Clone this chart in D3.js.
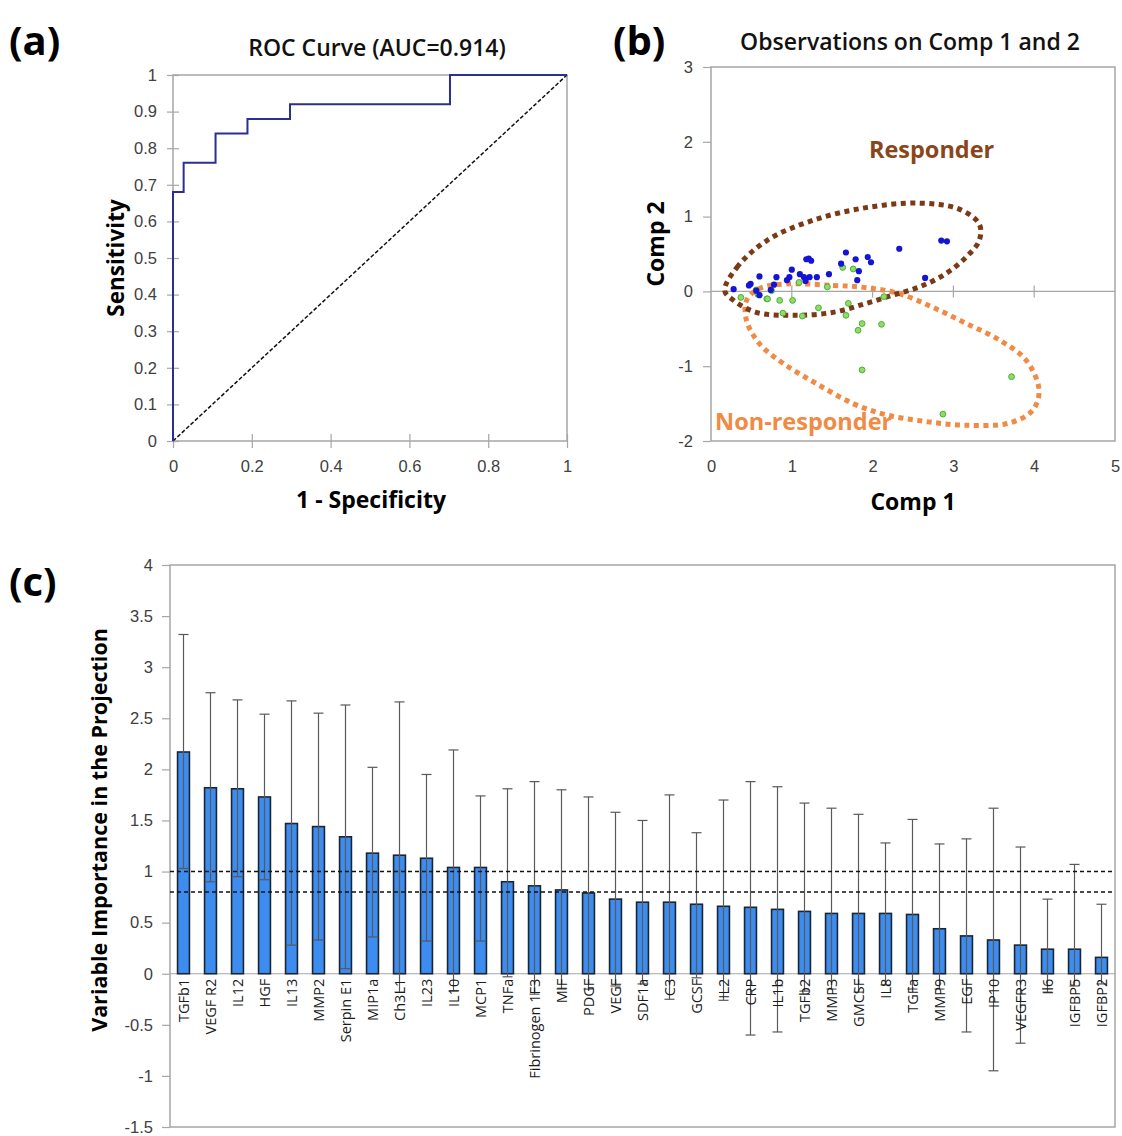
<!DOCTYPE html>
<html>
<head>
<meta charset="utf-8">
<script src="https://cdn.jsdelivr.net/npm/d3@7"></script>
<style>
  body { margin: 0; background: #fff; }
  svg { display: block; font-family: "Open Sans", sans-serif; }
  .tick text { fill: #404040; font-size: 16.5px; }
</style>
</head>
<body>
<svg id="chart" width="1122" height="1136"></svg>
<script>
// ROC curve (panel a) - step corners
const rocFpr = [0, 0, 0.027, 0.108, 0.189, 0.297, 0.703, 1];
const rocTpr = [0, 0.68, 0.76, 0.84, 0.88, 0.92, 1.0, 1.0];

// Scores plot (panel b)
const respComp1 = [0.28,0.47,0.49,0.60,0.56,0.60,0.74,0.78,0.81,0.94,0.97,1.00,1.10,1.15,1.17,1.18,1.21,1.24,1.22,1.31,1.46,1.67,1.61,1.79,1.83,1.81,1.94,1.98,2.33,2.65,2.85,2.92];
const respComp2 = [0.03,0.08,0.10,0.20,0.01,-0.05,0.02,0.09,0.19,0.15,0.19,0.29,0.23,0.19,0.14,0.43,0.44,0.41,0.19,0.19,0.23,0.52,0.37,0.43,0.27,0.15,0.46,0.39,0.57,0.18,0.68,0.67];
const nonComp1 = [0.37,0.56,0.58,0.69,0.70,0.75,0.85,1.01,0.89,1.09,1.13,1.33,1.44,1.63,1.76,1.70,1.67,1.82,1.87,2.11,2.14,1.87,2.87,3.72];
const nonComp2 = [-0.08,0.02,-0.04,-0.10,-0.10,0.01,-0.12,-0.12,-0.29,0.12,-0.33,-0.22,0.06,0.32,0.30,-0.16,-0.32,-0.52,-0.43,-0.44,-0.07,-1.05,-1.64,-1.14];

// hand drawn group outlines (data units)
const respLoopX = [0.17,0.32,0.69,1.26,1.92,2.58,3.07,3.32,3.32,3.16,2.91,2.58,2.25,1.92,1.51,1.02,0.56,0.28];
const respLoopY = [0.01,0.32,0.68,0.95,1.12,1.18,1.10,0.90,0.68,0.46,0.24,0.06,-0.05,-0.16,-0.28,-0.32,-0.28,-0.12];
const nonLoopX = [0.93,1.51,1.92,2.33,2.74,3.16,3.57,3.90,4.06,3.98,3.69,3.16,2.66,2.17,1.76,1.30,0.89,0.60,0.44,0.44,0.60];
const nonLoopY = [0.10,0.08,0.05,-0.03,-0.21,-0.43,-0.65,-0.92,-1.32,-1.59,-1.76,-1.79,-1.74,-1.65,-1.50,-1.23,-0.96,-0.70,-0.39,-0.12,0.04];

// VIP scores (panel c)
const vipNames = ["TGFb1","VEGF R2","IL12","HGF","IL13","MMP2","Serpin E1","MIP1a","Ch3L1","IL23","IL10","MCP1","TNFa","Fibrinogen 1F3","MIF","PDGF","VEGF","SDF1a","C3","GCSF","IL2","CRP","IL1b","TGFb2","MMP3","GMCSF","IL8","TGFa","MMP9","EGF","IP10","VEGFR3","Il6","IGFBP5","IGFBP2"];
const vipValues = [2.17,1.82,1.81,1.73,1.47,1.44,1.34,1.18,1.16,1.13,1.04,1.04,0.90,0.86,0.82,0.79,0.73,0.70,0.70,0.68,0.66,0.65,0.63,0.61,0.59,0.59,0.59,0.58,0.44,0.37,0.33,0.28,0.24,0.24,0.16];
const vipUpper = [3.32,2.75,2.68,2.54,2.67,2.55,2.63,2.02,2.66,1.95,2.19,1.74,1.81,1.88,1.80,1.73,1.58,1.50,1.75,1.38,1.70,1.88,1.83,1.67,1.62,1.56,1.28,1.51,1.27,1.32,1.62,1.24,0.73,1.07,0.68];
const vipLower = [1.03,0.90,0.95,0.92,0.28,0.33,0.05,0.36,-0.18,0.32,-0.17,0.32,-0.03,-0.20,-0.15,-0.15,-0.12,-0.10,-0.25,-0.04,-0.26,-0.60,-0.57,-0.17,-0.15,-0.18,-0.11,-0.15,-0.15,-0.57,-0.95,-0.68,-0.18,-0.12,-0.10];
const vipCutoffs = [1, 0.8];

const svg = d3.select("#chart");
svg.append("rect").attr("width", 1122).attr("height", 1136).attr("fill", "#fff");

const gridGray = "#a6a6a6";

function crossTicks(g, horizontal, len) {
  g.select(".domain").remove();
  g.selectAll(".tick line").attr("stroke", gridGray).attr("stroke-width", 1.2);
  if (horizontal) g.selectAll(".tick line").attr("y1", -len).attr("y2", len);
  else g.selectAll(".tick line").attr("x1", -len).attr("x2", len);
}

// ---------- panel (a) ----------
const xA = d3.scaleLinear().domain([0, 1]).range([173, 567]);
const yA = d3.scaleLinear().domain([0, 1]).range([441, 75]);

svg.append("text").attr("x", 9).attr("y", 55).attr("font-size", 40).attr("font-weight", 700).text("(a)");
svg.append("text").attr("x", 377).attr("y", 56).attr("text-anchor", "middle")
  .attr("font-size", 23).attr("font-weight", 600).attr("fill", "#111").text("ROC Curve (AUC=0.914)");

svg.append("rect").attr("x", xA(0)).attr("y", yA(1)).attr("width", xA(1) - xA(0)).attr("height", yA(0) - yA(1))
  .attr("fill", "none").attr("stroke", gridGray).attr("stroke-width", 1.5);

svg.append("g").attr("transform", `translate(${xA(0)},0)`)
  .call(d3.axisLeft(yA).tickValues(d3.ticks(0, 1, 10)).tickFormat(d => String(d)).tickSize(6).tickPadding(10))
  .call(g => crossTicks(g, false, 6));

svg.append("g").attr("transform", `translate(0,${yA(0)})`)
  .call(d3.axisBottom(xA).tickValues(d3.ticks(0, 1, 5)).tickFormat(d => String(d)).tickSize(6).tickPadding(13))
  .call(g => crossTicks(g, true, 7));

svg.append("line").attr("x1", xA(0)).attr("y1", yA(0)).attr("x2", xA(1)).attr("y2", yA(1))
  .attr("stroke", "#111").attr("stroke-width", 1.5).attr("stroke-dasharray", "4 2");

const rocPts = rocFpr.map((f, i) => [f, rocTpr[i]]);
svg.append("path").datum(rocPts)
  .attr("d", d3.line().x(d => xA(d[0])).y(d => yA(d[1])).curve(d3.curveStepAfter))
  .attr("fill", "none").attr("stroke", "#2b2f8f").attr("stroke-width", 2);

svg.append("text").attr("transform", `translate(124,${(yA(0) + yA(1)) / 2}) rotate(-90)`)
  .attr("text-anchor", "middle").attr("font-size", 22.5).attr("font-weight", 700).text("Sensitivity");
svg.append("text").attr("x", 371).attr("y", 508).attr("text-anchor", "middle")
  .attr("font-size", 23).attr("font-weight", 700).text("1 - Specificity");

// ---------- panel (b) ----------
const xB = d3.scaleLinear().domain([0, 5]).range([711, 1115]);
const yB = d3.scaleLinear().domain([-2, 3]).range([441, 67]);

svg.append("text").attr("x", 613).attr("y", 55).attr("font-size", 40).attr("font-weight", 700).text("(b)");
svg.append("text").attr("x", 910).attr("y", 50).attr("text-anchor", "middle")
  .attr("font-size", 23).attr("font-weight", 600).attr("fill", "#111").text("Observations on Comp 1 and 2");

svg.append("rect").attr("x", xB(0)).attr("y", yB(3)).attr("width", xB(5) - xB(0)).attr("height", yB(-2) - yB(3))
  .attr("fill", "none").attr("stroke", gridGray).attr("stroke-width", 1.5);

svg.append("g").attr("transform", `translate(${xB(0)},0)`)
  .call(d3.axisLeft(yB).tickValues(d3.range(-2, 4)).tickFormat(d => String(d)).tickSize(8).tickPadding(10))
  .call(g => { g.select(".domain").remove(); g.selectAll(".tick line").attr("stroke", gridGray).attr("stroke-width", 1.2); });

svg.append("g").attr("transform", `translate(0,${yB(-2)})`)
  .call(d3.axisBottom(xB).tickValues(d3.range(0, 6)).tickFormat(d => String(d)).tickSize(0).tickPadding(19))
  .call(g => g.select(".domain").remove());

// zero line with crossing ticks
svg.append("line").attr("x1", xB(0)).attr("x2", xB(5)).attr("y1", yB(0)).attr("y2", yB(0))
  .attr("stroke", gridGray).attr("stroke-width", 1.2);
svg.append("g").selectAll("line").data(d3.range(1, 5)).join("line")
  .attr("x1", d => xB(d)).attr("x2", d => xB(d)).attr("y1", yB(0) - 6).attr("y2", yB(0) + 6)
  .attr("stroke", gridGray).attr("stroke-width", 1.2);

const loopLine = d3.line().x(d => xB(d[0])).y(d => yB(d[1])).curve(d3.curveCatmullRomClosed.alpha(0.5));
svg.append("path").datum(nonLoopX.map((x, i) => [x, nonLoopY[i]])).attr("d", loopLine)
  .attr("fill", "none").attr("stroke", "#f08a44").attr("stroke-width", 5).attr("stroke-dasharray", "5 4.5");
svg.append("path").datum(respLoopX.map((x, i) => [x, respLoopY[i]])).attr("d", loopLine)
  .attr("fill", "none").attr("stroke", "#7a3a16").attr("stroke-width", 5).attr("stroke-dasharray", "5 4.5");

svg.append("g").selectAll("circle").data(nonComp1.map((x, i) => [x, nonComp2[i]])).join("circle")
  .attr("cx", d => xB(d[0])).attr("cy", d => yB(d[1])).attr("r", 2.9)
  .attr("fill", "#8fdc6a").attr("stroke", "#4caf35").attr("stroke-width", 1);
svg.append("g").selectAll("circle").data(respComp1.map((x, i) => [x, respComp2[i]])).join("circle")
  .attr("cx", d => xB(d[0])).attr("cy", d => yB(d[1])).attr("r", 3.1)
  .attr("fill", "#1414d2");

svg.append("text").attr("x", xB(2.73)).attr("y", yB(1.78)).attr("text-anchor", "middle")
  .attr("font-size", 23.5).attr("font-weight", 700).attr("fill", "#8a4519").text("Responder");
svg.append("text").attr("x", xB(0.05)).attr("y", yB(-1.85)).attr("text-anchor", "start")
  .attr("font-size", 23.5).attr("font-weight", 700).attr("fill", "#f08a44").text("Non-responder");

svg.append("text").attr("transform", `translate(664,${(yB(-2) + yB(3)) / 2 - 10}) rotate(-90)`)
  .attr("text-anchor", "middle").attr("font-size", 23).attr("font-weight", 700).text("Comp 2");
svg.append("text").attr("x", 913).attr("y", 510).attr("text-anchor", "middle")
  .attr("font-size", 23).attr("font-weight", 700).text("Comp 1");

// ---------- panel (c) ----------
const xC = d3.scaleBand().domain(vipNames).range([170, 1115]).paddingInner(0.56).paddingOuter(0.28);
const yC = d3.scaleLinear().domain([-1.5, 4]).range([1127, 565]);

svg.append("text").attr("x", 9).attr("y", 596).attr("font-size", 40).attr("font-weight", 700).text("(c)");

svg.append("rect").attr("x", 170).attr("y", yC(4)).attr("width", 1115 - 170).attr("height", yC(-1.5) - yC(4))
  .attr("fill", "none").attr("stroke", gridGray).attr("stroke-width", 1.5);

svg.append("g").attr("transform", "translate(170,0)")
  .call(d3.axisLeft(yC).tickValues(d3.range(-1.5, 4.01, 0.5)).tickFormat(d => String(d)).tickSize(8).tickPadding(9))
  .call(g => { g.select(".domain").remove(); g.selectAll(".tick line").attr("stroke", gridGray).attr("stroke-width", 1.2); });

svg.append("line").attr("x1", 170).attr("x2", 1115).attr("y1", yC(0)).attr("y2", yC(0))
  .attr("stroke", gridGray).attr("stroke-width", 1.2);

const bw = xC.bandwidth();
svg.append("g").selectAll("rect").data(vipNames).join("rect")
  .attr("x", d => xC(d)).attr("width", bw)
  .attr("y", (d, i) => yC(vipValues[i])).attr("height", (d, i) => yC(0) - yC(vipValues[i]))
  .attr("fill", "#3d8cf0").attr("stroke", "#1b2633").attr("stroke-width", 1.6);

// error bars
const eb = svg.append("g").attr("stroke", "#595959").attr("stroke-width", 1.2);
vipNames.forEach((n, i) => {
  const cx = xC(n) + bw / 2;
  eb.append("line").attr("x1", cx).attr("x2", cx).attr("y1", yC(vipUpper[i])).attr("y2", yC(vipLower[i]));
  [vipUpper[i], vipLower[i]].forEach(v => {
    eb.append("line").attr("x1", cx - 5).attr("x2", cx + 5).attr("y1", yC(v)).attr("y2", yC(v));
  });
});

svg.append("g").selectAll("line").data(vipCutoffs).join("line")
  .attr("x1", 170).attr("x2", 1115).attr("y1", d => yC(d)).attr("y2", d => yC(d))
  .attr("stroke", "#111").attr("stroke-width", 1.5).attr("stroke-dasharray", "4 3");

svg.append("g").selectAll("text").data(vipNames).join("text")
  .attr("transform", d => `translate(${xC(d) + bw / 2 + 5},${yC(0) + 5}) rotate(-90)`)
  .attr("text-anchor", "end").attr("font-size", 14.5).attr("fill", "#1a1a1a").text(d => d);

svg.append("text").attr("transform", `translate(107,830) rotate(-90)`)
  .attr("text-anchor", "middle").attr("font-size", 21.5).attr("font-weight", 700).text("Variable Importance in the Projection");
</script>
</body>
</html>
